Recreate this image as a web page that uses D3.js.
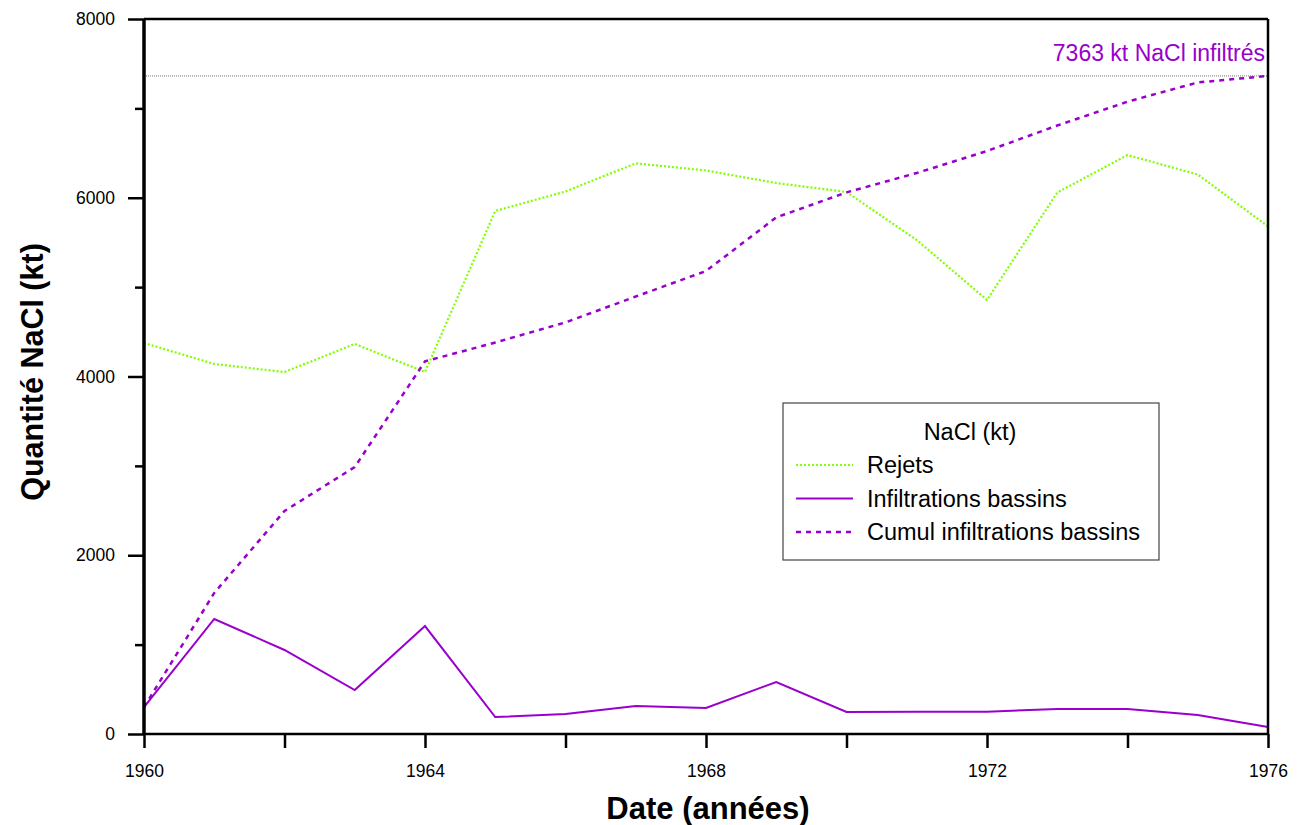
<!DOCTYPE html>
<html>
<head>
<meta charset="utf-8">
<script src="https://cdn.jsdelivr.net/npm/d3@7"></script>
<style>
  body { margin: 0; background: #fff; }
  text { font-family: "Liberation Sans", Arial, sans-serif; }
</style>
</head>
<body>
<div id="chart"></div>
<script>
const years = [1960, 1961, 1962, 1963, 1964, 1965, 1966, 1967, 1968, 1969, 1970, 1971, 1972, 1973, 1974, 1975, 1976]
const rejets = [4375, 4140, 4050, 4364, 4050, 5852, 6070, 6385, 6305, 6165, 6064, 5527, 4856, 6058, 6478, 6260, 5680]
const infiltrations = [300, 1287, 940, 492, 1208, 190, 224, 313, 291, 582, 246, 250, 250, 280, 280, 213, 78]
const cumul = [300, 1578, 2495, 2987, 4170, 4380, 4605, 4895, 5180, 5780, 6060, 6277, 6523, 6808, 7075, 7290, 7363]
const totalInfiltre = 7363
const yTicks = [0, 2000, 4000, 6000, 8000]
const xTicks = [1960, 1964, 1968, 1972, 1976]

const GREEN = "#80ff00"
const PURPLE = "#9900cc"

const W = 1302, H = 825
const MARGIN = { TOP: 19, BOTTOM: 91, LEFT: 144, RIGHT: 34 }
const WIDTH = W - MARGIN.LEFT - MARGIN.RIGHT
const HEIGHT = H - MARGIN.TOP - MARGIN.BOTTOM

const svg = d3.select("#chart").append("svg")
	.attr("width", W)
	.attr("height", H)

const g = svg.append("g")
	.attr("transform", `translate(${MARGIN.LEFT}, ${MARGIN.TOP})`)

const x = d3.scaleLinear().domain([1960, 1976]).range([0, WIDTH])
const y = d3.scaleLinear().domain([0, 8000]).range([HEIGHT, 0])

// minor ticks
g.append("g")
	.call(d3.axisLeft(y).tickValues(d3.range(1000, 8000, 2000)).tickSize(9).tickFormat(""))
	.call(a => a.select(".domain").remove())
	.selectAll("line").attr("stroke-width", 2.5)
g.append("g")
	.attr("transform", `translate(0, ${HEIGHT})`)
	.call(d3.axisBottom(x).tickValues(d3.range(1962, 1976, 4)).tickSize(14).tickFormat(""))
	.call(a => a.select(".domain").remove())
	.selectAll("line").attr("stroke-width", 2.5)

// major ticks + labels
const yAxis = g.append("g")
	.call(d3.axisLeft(y).tickValues(yTicks).tickSize(16).tickPadding(13).tickFormat(d3.format("d")))
yAxis.select(".domain").remove()
yAxis.selectAll("line").attr("stroke-width", 2.5)
yAxis.selectAll("text").attr("font-size", 17.5).attr("font-family", "Liberation Sans, Arial, sans-serif")

const xAxis = g.append("g")
	.attr("transform", `translate(0, ${HEIGHT})`)
	.call(d3.axisBottom(x).tickValues(xTicks).tickSize(14).tickPadding(17).tickFormat(d3.format("d")))
xAxis.select(".domain").remove()
xAxis.selectAll("line").attr("stroke-width", 2.5)
xAxis.selectAll("text").attr("font-size", 17.5).attr("font-family", "Liberation Sans, Arial, sans-serif")

// reference line for total
g.append("line")
	.attr("x1", 0).attr("x2", WIDTH)
	.attr("y1", y(totalInfiltre)).attr("y2", y(totalInfiltre))
	.attr("stroke", "#777").attr("stroke-width", 1).attr("stroke-dasharray", "1,1")

g.append("text")
	.attr("x", WIDTH - 3)
	.attr("y", y(totalInfiltre) - 15)
	.attr("text-anchor", "end")
	.attr("font-size", 23)
	.attr("fill", PURPLE)
	.text(`${totalInfiltre} kt NaCl infiltrés`)

const line = d3.line().x((d, i) => x(years[i])).y(d => y(d))

g.append("path").datum(rejets)
	.attr("d", line).attr("fill", "none")
	.attr("stroke", GREEN).attr("stroke-width", 2.2).attr("stroke-dasharray", "2,2")

g.append("path").datum(infiltrations)
	.attr("d", line).attr("fill", "none")
	.attr("stroke", PURPLE).attr("stroke-width", 2)

g.append("path").datum(cumul)
	.attr("d", line).attr("fill", "none")
	.attr("stroke", PURPLE).attr("stroke-width", 2.5).attr("stroke-dasharray", "5,5")

// frame
g.append("line").attr("x1", 0).attr("x2", WIDTH).attr("y1", 0).attr("y2", 0)
	.attr("stroke", "#000").attr("stroke-width", 2.5)
g.append("line").attr("x1", 0).attr("x2", WIDTH).attr("y1", HEIGHT).attr("y2", HEIGHT)
	.attr("stroke", "#000").attr("stroke-width", 2.5)
g.append("line").attr("x1", 0).attr("x2", 0).attr("y1", 0).attr("y2", HEIGHT)
	.attr("stroke", "#000").attr("stroke-width", 3.5)
g.append("line").attr("x1", WIDTH).attr("x2", WIDTH).attr("y1", 0).attr("y2", HEIGHT)
	.attr("stroke", "#000").attr("stroke-width", 2.5)

// axis titles
svg.append("text")
	.attr("x", 708)
	.attr("y", 819)
	.attr("text-anchor", "middle")
	.attr("font-size", 31)
	.attr("font-weight", "bold")
	.text("Date (années)")

svg.append("text")
	.attr("transform", `translate(43, 372) rotate(-90)`)
	.attr("text-anchor", "middle")
	.attr("font-size", 30.5)
	.attr("font-weight", "bold")
	.text("Quantité NaCl (kt)")

// legend
const legend = svg.append("g").attr("transform", "translate(783, 403)")
legend.append("rect")
	.attr("width", 376).attr("height", 157)
	.attr("fill", "#fff").attr("stroke", "#444").attr("stroke-width", 1.2)
legend.append("text")
	.attr("x", 187).attr("y", 37)
	.attr("text-anchor", "middle")
	.attr("font-size", 23.5)
	.text("NaCl (kt)")

const legendItems = [
	{ name: "Rejets", color: GREEN, dash: "2,2", w: 2.2 },
	{ name: "Infiltrations bassins", color: PURPLE, dash: null, w: 2 },
	{ name: "Cumul infiltrations bassins", color: PURPLE, dash: "5,5", w: 2.5 }
]
legendItems.forEach((it, i) => {
	const yy = 62 + i * 33.5
	legend.append("line")
		.attr("x1", 13).attr("x2", 70).attr("y1", yy).attr("y2", yy)
		.attr("stroke", it.color).attr("stroke-width", it.w)
		.attr("stroke-dasharray", it.dash)
	legend.append("text")
		.attr("x", 84).attr("y", yy + 8)
		.attr("font-size", 23.5)
		.text(it.name)
})
</script>
</body>
</html>
